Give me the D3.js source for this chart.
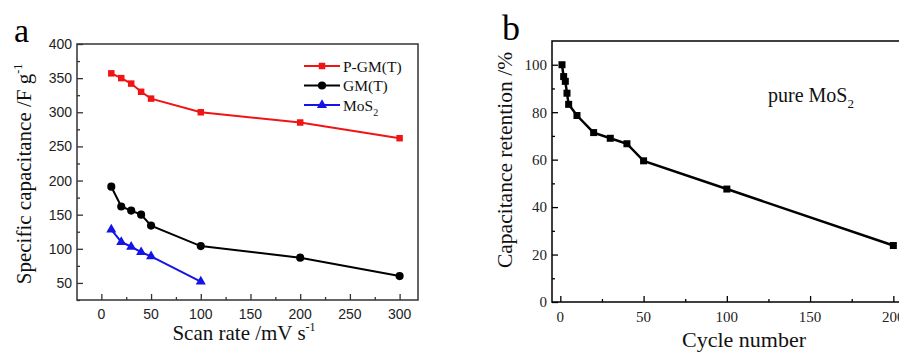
<!DOCTYPE html>
<html>
<head>
<meta charset="utf-8">
<script src="https://cdn.jsdelivr.net/npm/d3@7/dist/d3.min.js"></script>
<style>
  body { margin: 0; background: #fff; }
  svg { display: block; }
</style>
</head>
<body>
<div id="chart"></div>
<script>
// panel a: specific capacitance vs scan rate
var scanRates = [10, 20, 30, 40, 50, 100, 200, 300];
var scanRatesMoS2 = [10, 20, 30, 40, 50, 100];
var pgmValues = [357, 350, 342, 330, 320, 300, 285, 262];
var gmValues = [191, 162, 156, 150, 134, 104, 87, 60];
var mos2Values = [128, 110, 103, 95, 89, 52];
var aXTicks = [0, 50, 100, 150, 200, 250, 300];
var aYTicks = [50, 100, 150, 200, 250, 300, 350, 400];

// panel b: capacitance retention vs cycle number
var cycles = [1, 2, 3, 4, 5, 10, 20, 30, 40, 50, 100, 200];
var retention = [100, 95, 93, 88, 83.3, 78.6, 71.4, 69, 66.7, 59.5, 47.6, 23.8];
var bXTicks = [0, 50, 100, 150, 200];
var bYTicks = [0, 20, 40, 60, 80, 100];

var W = 899, H = 354;
var serif = "'Liberation Serif', 'Times New Roman', serif";
var sans = "'Liberation Sans', Arial, sans-serif";

var svg = d3.select('#chart').append('svg')
  .attr('width', W)
  .attr('height', H);

// ---------- panel a ----------
var a = { left: 77, top: 44, right: 418, bottom: 300 };

var xA = d3.scaleLinear().domain([-24.5, 318.5]).range([a.left, a.right]);
var yA = d3.scaleLinear().domain([25, 400]).range([a.bottom, a.top]);

var gA = svg.append('g');

gA.append('rect')
  .attr('x', a.left).attr('y', a.top)
  .attr('width', a.right - a.left).attr('height', a.bottom - a.top)
  .attr('fill', 'none').attr('stroke', '#333').attr('stroke-width', 1.5);

// major and minor ticks (inward)
var aMinorY = d3.range(25, 400, 50);
var aMinorX = d3.range(25, 300, 50);

gA.append('g')
  .attr('transform', 'translate(' + a.left + ',0)')
  .call(d3.axisRight(yA).tickValues(aYTicks).tickSize(6).tickFormat(''))
  .call(g => g.select('.domain').remove())
  .selectAll('line').attr('stroke', '#333').attr('stroke-width', 1.3);
gA.append('g')
  .attr('transform', 'translate(' + a.left + ',0)')
  .call(d3.axisRight(yA).tickValues(aMinorY).tickSize(3).tickFormat(''))
  .call(g => g.select('.domain').remove())
  .selectAll('line').attr('stroke', '#333').attr('stroke-width', 1.3);
gA.append('g')
  .attr('transform', 'translate(0,' + a.bottom + ')')
  .call(d3.axisTop(xA).tickValues(aXTicks).tickSize(6).tickFormat(''))
  .call(g => g.select('.domain').remove())
  .selectAll('line').attr('stroke', '#333').attr('stroke-width', 1.3);
gA.append('g')
  .attr('transform', 'translate(0,' + a.bottom + ')')
  .call(d3.axisTop(xA).tickValues(aMinorX).tickSize(3).tickFormat(''))
  .call(g => g.select('.domain').remove())
  .selectAll('line').attr('stroke', '#333').attr('stroke-width', 1.3);

// tick labels
gA.selectAll('.ylab').data(aYTicks).enter().append('text')
  .attr('x', a.left - 5)
  .attr('y', d => yA(d))
  .attr('dy', '0.36em')
  .attr('text-anchor', 'end')
  .attr('font-family', sans).attr('font-size', 14).attr('fill', '#222')
  .text(d => d);
gA.selectAll('.xlab').data(aXTicks).enter().append('text')
  .attr('x', d => xA(d))
  .attr('y', a.bottom + 19)
  .attr('text-anchor', 'middle')
  .attr('font-family', sans).attr('font-size', 14).attr('fill', '#222')
  .text(d => d);

// axis titles
var aXTitle = gA.append('text')
  .attr('x', 244).attr('y', 340)
  .attr('text-anchor', 'middle')
  .attr('font-family', serif).attr('font-size', 21).attr('fill', '#111');
aXTitle.append('tspan').text('Scan rate /mV s');
aXTitle.append('tspan').attr('dy', -9).attr('font-size', 12).text('-1');

var aYTitle = gA.append('text')
  .attr('transform', 'translate(31,174) rotate(-90)')
  .attr('text-anchor', 'middle')
  .attr('font-family', serif).attr('font-size', 21).attr('fill', '#111');
aYTitle.append('tspan').text('Specific capacitance /F g');
aYTitle.append('tspan').attr('dy', -9).attr('font-size', 12).text('-1');

gA.append('text')
  .attr('x', 14).attr('y', 42)
  .attr('font-family', serif).attr('font-size', 34).attr('fill', '#000')
  .text('a');

// series
var aSeries = [
  { name: 'P-GM(T)', xs: scanRates, ys: pgmValues, color: '#f01414', shape: d3.symbolSquare, size: 42 },
  { name: 'GM(T)', xs: scanRates, ys: gmValues, color: '#000', shape: d3.symbolCircle, size: 52 },
  { name: 'MoS2', xs: scanRatesMoS2, ys: mos2Values, color: '#1414e6', shape: d3.symbolTriangle, size: 44 }
];

var lineA = d3.line().x(d => xA(d[0])).y(d => yA(d[1]));

aSeries.forEach(function(s, k) {
  var pts = s.xs.map((x, i) => [x, s.ys[i]]);
  gA.append('path')
    .datum(pts)
    .attr('d', lineA)
    .attr('fill', 'none')
    .attr('stroke', s.color)
    .attr('stroke-width', 2);
  gA.selectAll('.m' + k).data(pts).enter().append('path')
    .attr('transform', d => 'translate(' + xA(d[0]) + ',' + yA(d[1]) + ')')
    .attr('d', d3.symbol().type(s.shape).size(s.size))
    .attr('fill', s.color);

  // legend
  var ly = 66 + k * 19.5;
  gA.append('line')
    .attr('x1', 304).attr('x2', 340).attr('y1', ly).attr('y2', ly)
    .attr('stroke', s.color).attr('stroke-width', 2);
  gA.append('path')
    .attr('transform', 'translate(322,' + ly + ')')
    .attr('d', d3.symbol().type(s.shape).size(s.size))
    .attr('fill', s.color);
  var lt = gA.append('text')
    .attr('x', 343).attr('y', ly + 5.5)
    .attr('font-family', serif).attr('font-size', 15.5).attr('fill', '#111');
  if (s.name === 'MoS2') {
    lt.append('tspan').text('MoS');
    lt.append('tspan').attr('dy', 5).attr('font-size', 10).text('2');
  } else {
    lt.text(s.name);
  }
});

// ---------- panel b ----------
var b = { left: 552, top: 41, right: 910, bottom: 302 };

var xB = d3.scaleLinear().domain([-5, 210]).range([b.left, b.right]);
var yB = d3.scaleLinear().domain([0, 110]).range([b.bottom, b.top]);

var gB = svg.append('g');

gB.append('rect')
  .attr('x', b.left).attr('y', b.top)
  .attr('width', b.right - b.left).attr('height', b.bottom - b.top)
  .attr('fill', 'none').attr('stroke', '#000').attr('stroke-width', 1.5);

var bMinorY = d3.range(10, 110, 20);
var bMinorX = d3.range(25, 210, 50);

gB.append('g')
  .attr('transform', 'translate(' + b.left + ',0)')
  .call(d3.axisRight(yB).tickValues(bYTicks).tickSize(6).tickFormat(''))
  .call(g => g.select('.domain').remove())
  .selectAll('line').attr('stroke', '#000').attr('stroke-width', 1.3);
gB.append('g')
  .attr('transform', 'translate(' + b.left + ',0)')
  .call(d3.axisRight(yB).tickValues(bMinorY).tickSize(3).tickFormat(''))
  .call(g => g.select('.domain').remove())
  .selectAll('line').attr('stroke', '#000').attr('stroke-width', 1.3);
gB.append('g')
  .attr('transform', 'translate(0,' + b.bottom + ')')
  .call(d3.axisTop(xB).tickValues(bXTicks).tickSize(6).tickFormat(''))
  .call(g => g.select('.domain').remove())
  .selectAll('line').attr('stroke', '#000').attr('stroke-width', 1.3);
gB.append('g')
  .attr('transform', 'translate(0,' + b.bottom + ')')
  .call(d3.axisTop(xB).tickValues(bMinorX).tickSize(3).tickFormat(''))
  .call(g => g.select('.domain').remove())
  .selectAll('line').attr('stroke', '#000').attr('stroke-width', 1.3);

gB.selectAll('.ylab').data(bYTicks).enter().append('text')
  .attr('x', b.left - 5)
  .attr('y', d => yB(d))
  .attr('dy', '0.36em')
  .attr('text-anchor', 'end')
  .attr('font-family', serif).attr('font-size', 15).attr('fill', '#222')
  .text(d => d);
gB.selectAll('.xlab').data(bXTicks).enter().append('text')
  .attr('x', d => xB(d))
  .attr('y', b.bottom + 20)
  .attr('text-anchor', 'middle')
  .attr('font-family', serif).attr('font-size', 15).attr('fill', '#222')
  .text(d => d);

gB.append('text')
  .attr('x', 744).attr('y', 347)
  .attr('text-anchor', 'middle')
  .attr('font-family', serif).attr('font-size', 22).attr('fill', '#111')
  .text('Cycle number');

gB.append('text')
  .attr('transform', 'translate(512,160) rotate(-90)')
  .attr('text-anchor', 'middle')
  .attr('font-family', serif).attr('font-size', 21.5).attr('fill', '#111')
  .text('Capacitance retention /%');

gB.append('text')
  .attr('x', 502).attr('y', 40)
  .attr('font-family', serif).attr('font-size', 36).attr('fill', '#000')
  .text('b');

var pure = gB.append('text')
  .attr('x', 768).attr('y', 102)
  .attr('font-family', serif).attr('font-size', 20).attr('fill', '#111');
pure.append('tspan').text('pure MoS');
pure.append('tspan').attr('dy', 6).attr('font-size', 13).text('2');

var ptsB = cycles.map((c, i) => [c, retention[i]]);

gB.append('path')
  .datum(ptsB)
  .attr('d', d3.line().x(d => xB(d[0])).y(d => yB(d[1])))
  .attr('fill', 'none')
  .attr('stroke', '#000')
  .attr('stroke-width', 2.5);

gB.selectAll('.mb').data(ptsB).enter().append('rect')
  .attr('x', d => xB(d[0]) - 3.5)
  .attr('y', d => yB(d[1]) - 3.5)
  .attr('width', 7).attr('height', 7)
  .attr('fill', '#000');
</script>
</body>
</html>
